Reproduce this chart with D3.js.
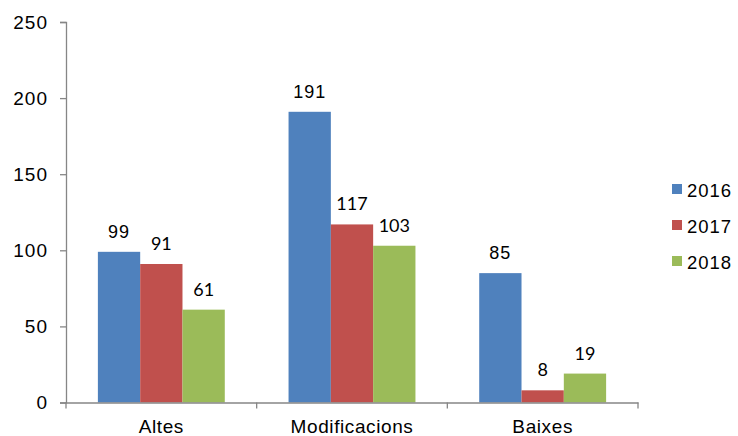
<!DOCTYPE html>
<html><head><meta charset="utf-8">
<script src="https://cdn.jsdelivr.net/npm/d3@7"></script>
<style>body{margin:0;background:#fff}</style>
</head><body>
<svg id="c" width="738" height="436"></svg>
<script>
const categories = ["Altes", "Modificacions", "Baixes"];
const seriesNames = ["2016", "2017", "2018"];
const values2016 = [99, 191, 85];
const values2017 = [91, 117, 8];
const values2018 = [61, 103, 19];
const yTicks = [0, 50, 100, 150, 200, 250];
const colors = ["#4F81BD", "#C0504D", "#9BBB59"];

(function () {
const series = [values2016, values2017, values2018];
const svg = d3.select("#c");
const mLeft = 66, mRight = 638, mTop = 22, mBottom = 402.5;
const arial = "'Liberation Sans', Arial, sans-serif";

const x = d3.scaleBand().domain(categories).range([mLeft, mRight]).paddingInner(0).paddingOuter(0);
const y = d3.scaleLinear().domain([0, 250]).range([mBottom, mTop]);
const barW = 42.3;
const inner = d3.scaleBand().domain(seriesNames).range([0, barW * 3]);
const offset = (x.bandwidth() - barW * 3) / 2;

// y axis
const ya = svg.append("g").attr("transform", `translate(${mLeft},0)`)
  .call(d3.axisLeft(y).tickValues(yTicks).tickSize(6).tickPadding(12).tickFormat(d3.format("d")));
ya.select(".domain").attr("stroke", "#868686").attr("stroke-width", 1.3);
ya.selectAll(".tick line").attr("stroke", "#868686").attr("stroke-width", 1.3);
ya.selectAll(".tick text").attr("font-family", arial).attr("font-size", 19)
  .attr("letter-spacing", 1).attr("fill", "#000");

// bars
series.forEach((vals, si) => {
  svg.append("g").selectAll("rect").data(vals).join("rect")
    .attr("x", (d, i) => x(categories[i]) + offset + inner(seriesNames[si]))
    .attr("y", d => y(d))
    .attr("width", barW)
    .attr("height", d => mBottom - y(d))
    .attr("fill", colors[si]);
  svg.append("g").selectAll("text").data(vals).join("text")
    .attr("x", (d, i) => x(categories[i]) + offset + inner(seriesNames[si]) + barW / 2)
    .attr("y", d => y(d) - 14)
    .attr("text-anchor", "middle")
    .attr("font-family", si === 0 ? arial : "Lato, sans-serif")
    .attr("font-size", 18)
    .attr("letter-spacing", si === 0 ? 1 : 0)
    .attr("fill", "#000")
    .text(d => d);
});

// x axis
const xa = svg.append("g").attr("transform", `translate(0,${mBottom})`)
  .call(d3.axisBottom(x).tickSize(0).tickPadding(17));
xa.select(".domain").attr("stroke", "#868686").attr("stroke-width", 1.3);
xa.selectAll(".tick text").attr("font-family", arial).attr("font-size", 19)
  .attr("letter-spacing", 0.6).attr("fill", "#000");
const bounds = categories.map(c => x(c)).concat([x(categories[categories.length - 1]) + x.bandwidth()]);
xa.selectAll(".sep").data(bounds).join("line")
  .attr("x1", d => d).attr("x2", d => d).attr("y1", 0).attr("y2", 6)
  .attr("stroke", "#868686").attr("stroke-width", 1.3);

// legend
const lg = svg.append("g").attr("transform", "translate(672,184)");
seriesNames.forEach((s, i) => {
  lg.append("rect").attr("x", 0).attr("y", i * 36).attr("width", 10).attr("height", 10).attr("fill", colors[i]);
  lg.append("text").attr("x", 15).attr("y", i * 36 + 13)
    .attr("font-family", arial).attr("font-size", 18.5).attr("letter-spacing", 1)
    .attr("fill", "#000").text(s);
});
})();
</script>
</body></html>
